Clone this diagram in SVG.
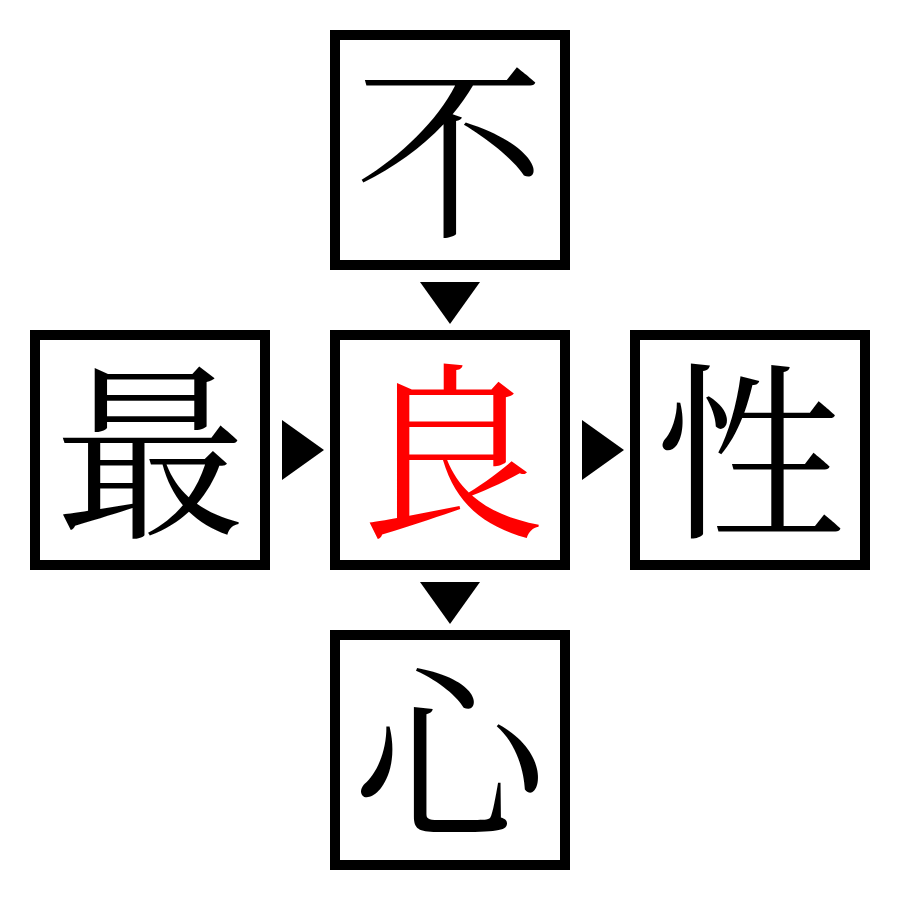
<svg xmlns="http://www.w3.org/2000/svg" width="900" height="900" viewBox="0 0 900 900">
<style>
.box{fill:#fff;stroke:#000;stroke-width:10}
.ch{font-family:"Noto Serif CJK JP","Noto Sans CJK JP","Noto Sans CJK SC",serif;font-size:190px;text-anchor:middle;fill:#000}
.red{fill:#ff0000}
.arr{fill:#000}
</style>
<rect width="900" height="900" fill="#fff"/>
<g id="connectors">
<polygon class="arr" points="420,282 480,282 450,324"/>
<polygon class="arr" points="420,582 480,582 450,624"/>
<polygon class="arr" points="282,420 282,480 324,450"/>
<polygon class="arr" points="582,420 582,480 624,450"/>
</g>
<g id="node-top"><rect class="box" x="335" y="35" width="230" height="230"/><text class="ch" x="450" y="223">不</text></g>
<g id="node-left"><rect class="box" x="35" y="335" width="230" height="230"/><text class="ch" x="150" y="523">最</text></g>
<g id="node-center"><rect class="box" x="335" y="335" width="230" height="230"/><text class="ch red" x="450" y="523">良</text></g>
<g id="node-right"><rect class="box" x="635" y="335" width="230" height="230"/><text class="ch" x="750" y="523">性</text></g>
<g id="node-bottom"><rect class="box" x="335" y="635" width="230" height="230"/><text class="ch" x="450" y="823">心</text></g>
</svg>
